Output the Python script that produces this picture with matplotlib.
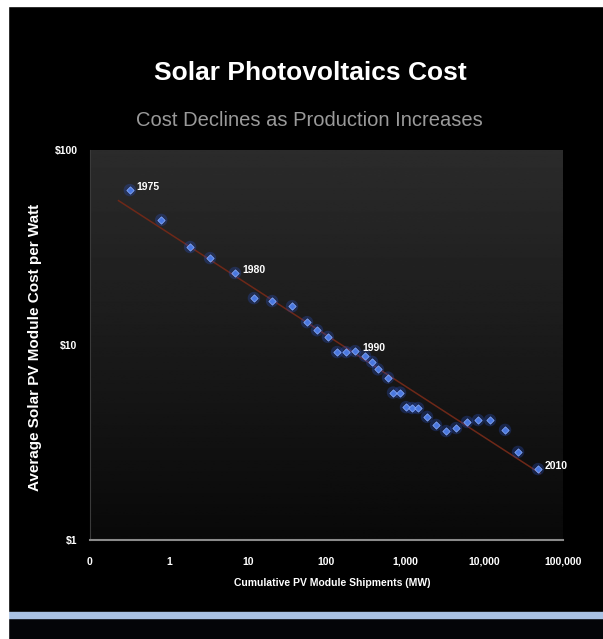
import numpy as np
import matplotlib.pyplot as plt
from matplotlib import font_manager

# pick the narrowest installed family
installed = {f.name for f in font_manager.fontManager.ttflist}
narrow = [f for f in ['Liberation Sans Narrow', 'DejaVu Sans Condensed', 'Liberation Sans']
          if f in installed][0]
plt.rcParams['font.family'] = [narrow, 'DejaVu Sans']

# Data
shipments_mw = [0.32, 0.80, 1.86, 3.33, 6.9, 12.0, 20.4, 36.5, 56.6, 75.8, 104, 136,
                177, 230, 308, 378, 450, 603, 698, 857, 1020, 1216, 1449, 1884,
                2449, 3281, 4395, 6053, 8356, 11860, 18400, 26900, 48200]
cost_per_watt = [62.3, 43.8, 31.8, 27.9, 23.4, 17.4, 16.8, 15.8, 13.1, 11.9, 11.0, 9.2,
                 9.2, 9.3, 8.8, 8.2, 7.5, 6.8, 5.7, 5.7, 4.8, 4.75, 4.75, 4.28,
                 3.89, 3.62, 3.75, 4.03, 4.12, 4.12, 3.67, 2.83, 2.31]
year_labels = ['1975', '1980', '1990', '2010']
year_index = [0, 4, 13, 32]
trend_x = [0.23, 51000]
trend_y = [55, 2.2]
x_ticks = [0.1, 1, 10, 100, 1000, 10000, 100000]
x_tick_labels = ['0', '1', '10', '100', '1,000', '10,000', '100,000']
y_ticks = [1, 10, 100]
y_tick_labels = [r'\$1', r'\$10', r'\$100']

W, H = 603, 639
fig = plt.figure(figsize=(W / 100, H / 100), dpi=100, facecolor='black')

# slide frame: white edges, blue rule near the bottom
fig.patches.append(plt.Rectangle((0, 0), 1, (H - 618) / H, transform=fig.transFigure,
                                 color='#040508', zorder=0))
fig.patches.append(plt.Rectangle((0, (H - 618) / H), 1, 6 / H, transform=fig.transFigure,
                                 color='#a9c2e4', zorder=1))
fig.patches.append(plt.Rectangle((0, 0), 8 / W, 1, transform=fig.transFigure,
                                 color='white', zorder=2))
fig.patches.append(plt.Rectangle((0, 1 - 6 / H), 1, 6 / H, transform=fig.transFigure,
                                 color='white', zorder=2))

# plot area
rect = [90 / W, (H - 540) / H, 473 / W, 390 / H]

bg = fig.add_axes(rect)
g = np.linspace(0.17, 0.035, 256)[:, None]
bg.imshow(g, cmap='gray', vmin=0, vmax=1, extent=[0, 1, 0, 1], aspect='auto')
bg.axis('off')

ax = fig.add_axes(rect, facecolor='none')
ax.set_xscale('log')
ax.set_yscale('log')

ax.plot(trend_x, trend_y, color='#6e2818', lw=1.1, zorder=2)
ax.scatter(shipments_mw, cost_per_watt, s=80, color='#2a52c8', alpha=0.3,
           edgecolors='none', zorder=3)
ax.scatter(shipments_mw, cost_per_watt, s=14, marker='D', color='#4a78e0',
           edgecolors='#8db0ff', linewidths=0.5, zorder=4)

for lbl, i in zip(year_labels, year_index):
    ax.annotate(lbl, (shipments_mw[i], cost_per_watt[i]), xytext=(5, 2),
                textcoords='offset points', color='white', fontsize=7.5,
                fontweight='bold', va='center', zorder=5)

ax.set_xlim(0.1, 100000)
ax.set_ylim(1, 100)
ax.set_xticks(x_ticks)
ax.set_xticklabels(x_tick_labels)
ax.set_yticks(y_ticks)
ax.set_yticklabels(y_tick_labels)
ax.minorticks_off()
ax.tick_params(length=0, colors='white', labelsize=7.5)
ax.tick_params(axis='x', pad=12)
ax.tick_params(axis='y', pad=9)
for t in ax.get_xticklabels() + ax.get_yticklabels():
    t.set_fontweight('bold')

for s in ['top', 'right']:
    ax.spines[s].set_visible(False)
ax.spines['bottom'].set_color('#8a8a8a')
ax.spines['bottom'].set_linewidth(1.5)
ax.spines['left'].set_color('#3a3a3a')

# titles and axis labels
fig.text(310 / W, 1 - 73 / H, 'Solar Photovoltaics Cost', color='white',
         fontsize=19, fontweight='bold', ha='center', va='center')
fig.text(309 / W, 1 - 121 / H, 'Cost Declines as Production Increases', color='#9a9a9a',
         fontsize=14.5, ha='center', va='center')
fig.text(332 / W, 1 - 583 / H, 'Cumulative PV Module Shipments (MW)', color='white',
         fontsize=7.5, fontweight='bold', ha='center', va='center')
fig.text(35 / W, 1 - 347 / H, 'Average Solar PV Module Cost per Watt', color='white',
         fontsize=11, fontweight='bold', ha='center', va='center', rotation=90)

fig.savefig('out.png', dpi=100, facecolor='black')
